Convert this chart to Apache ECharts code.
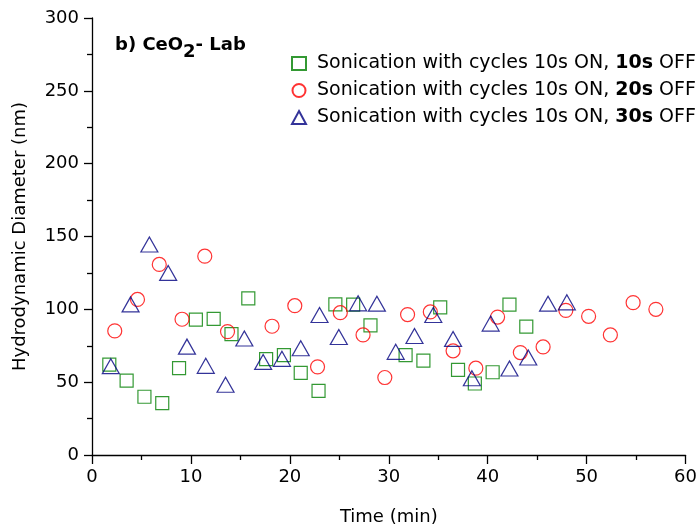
<!DOCTYPE html>
<html>
<head>
<meta charset="utf-8">
<script src="https://cdn.jsdelivr.net/npm/echarts@6/dist/echarts.min.js"></script>
<style>
  html, body { margin: 0; padding: 0; background: #fff; }
  #container { width: 700px; height: 531px; }
</style>
</head>
<body>
<div id="container"></div>
<script>
// 数据 (时间 min, 粒径 nm)
var offTimes = ['10s', '20s', '30s'];
var seriesNames = offTimes.map(function (t) {
    return 'Sonication with cycles 10s ON, ' + t + ' OFF';
});

var off10 = [
    [1.75, 62], [3.5, 51], [5.3, 40], [7.1, 35.6], [8.8, 59.6], [10.5, 93],
    [12.3, 93.4], [14.1, 83], [15.8, 107.5], [17.6, 65.8], [19.4, 68.5], [21.1, 56.4],
    [22.9, 44], [24.6, 103.4], [26.4, 103.2], [28.15, 89], [31.7, 68.5], [33.5, 64.8],
    [35.2, 101.4], [37.0, 58.5], [38.7, 49.1], [40.5, 56.8], [42.2, 103.2], [43.9, 88.1]
];
var off20 = [
    [2.3, 85.2], [4.6, 106.8], [6.8, 130.8], [9.1, 93.2], [11.4, 136.5], [13.7, 84.7],
    [18.2, 88.4], [20.5, 102.5], [22.8, 60.5], [25.1, 97.7], [27.4, 82.4], [29.6, 53.2],
    [31.9, 96.4], [34.2, 98.2], [36.5, 71.5], [38.8, 59.6], [41.0, 94.7], [43.3, 70.3],
    [45.6, 74.2], [47.9, 99.3], [50.2, 95.2], [52.4, 82.4], [54.7, 104.6], [57.0, 100]
];
var off30 = [
    [1.9, 61], [3.9, 103.4], [5.8, 144.5], [7.7, 125], [9.6, 74.4], [11.5, 61.2],
    [13.5, 48.2], [15.4, 80], [17.3, 63.9], [19.2, 66], [21.1, 73.3], [23.0, 96.1],
    [24.95, 81], [26.9, 104.1], [28.8, 103.9], [30.7, 70.8], [32.6, 81.7], [34.5, 96.1],
    [36.5, 79.7], [38.4, 52.7], [40.3, 90.2], [42.2, 59.4], [44.1, 66.9], [46.1, 103.9],
    [48.0, 104.8]
];

var dom = document.getElementById('container');
var myChart = echarts.init(dom);
var font = 'DejaVu Sans, sans-serif';

function hollow(name, data, symbol, size, color) {
    return {
        name: name,
        type: 'scatter',
        data: data,
        symbol: symbol,
        symbolSize: size,
        itemStyle: { color: 'rgba(255,255,255,0)', borderColor: color, borderWidth: 1.2 },
        emphasis: { disabled: true }
    };
}

var option = {
    animation: false,
    backgroundColor: '#fff',
    textStyle: { fontFamily: font },
    title: {
        text: '{a|b) CeO}{s|2}{a|- Lab}',
        left: 110,
        top: 24,
        textStyle: {
            rich: {
                a: { fontFamily: font, fontSize: 18, fontWeight: 'bold', color: '#000' },
                s: { fontFamily: font, fontSize: 18, fontWeight: 'bold', color: '#000', padding: [14, 0, 0, 0] }
            }
        }
    },
    legend: {
        orient: 'vertical',
        left: 286,
        top: 49,
        itemWidth: 14,
        itemHeight: 13,
        itemGap: 8,
        data: seriesNames,
        formatter: function (name) {
            var i = seriesNames.indexOf(name);
            return '{g| }{n|Sonication with cycles 10s ON, }{b|' + offTimes[i] + '}{n| OFF}';
        },
        textStyle: {
            rich: {
                g: { width: 6, fontSize: 19, lineHeight: 19 },
                n: { fontFamily: font, fontSize: 19, color: '#000', lineHeight: 19 },
                b: { fontFamily: font, fontSize: 19, fontWeight: 'bold', color: '#000', lineHeight: 19 }
            }
        }
    },
    grid: { left: 92, right: 14, top: 18, bottom: 75 },
    xAxis: {
        type: 'value',
        min: 0,
        max: 60,
        interval: 10,
        name: 'Time (min)',
        nameLocation: 'middle',
        nameGap: 53,
        nameTextStyle: { fontSize: 18, color: '#000', fontFamily: font },
        axisLine: { onZero: false, lineStyle: { color: '#000', width: 1.3 } },
        axisTick: { inside: false, length: 9, lineStyle: { color: '#000', width: 1.3 } },
        minorTick: { show: true, splitNumber: 2, length: 5, lineStyle: { color: '#000', width: 1.3 } },
        axisLabel: { fontSize: 18, color: '#000', margin: 13, fontFamily: font },
        splitLine: { show: false }
    },
    yAxis: {
        type: 'value',
        min: 0,
        max: 300,
        interval: 50,
        name: 'Hydrodynamic Diameter (nm)',
        nameLocation: 'middle',
        nameGap: 63,
        nameTextStyle: { fontSize: 18, color: '#000', fontFamily: font },
        axisLine: { show: true, onZero: false, lineStyle: { color: '#000', width: 1.3 } },
        axisTick: { show: true, inside: false, length: 8, lineStyle: { color: '#000', width: 1.3 } },
        minorTick: { show: true, splitNumber: 2, length: 5, lineStyle: { color: '#000', width: 1.3 } },
        axisLabel: { fontSize: 18, color: '#000', margin: 13, fontFamily: font },
        splitLine: { show: false }
    },
    series: [
        hollow(seriesNames[0], off10, 'rect', 13, '#008000'),
        hollow(seriesNames[1], off20, 'circle', 14, '#ff0000'),
        hollow(seriesNames[2], off30, 'triangle', [17, 15], '#000080')
    ]
};

myChart.setOption(option, true);
</script>
</body>
</html>
